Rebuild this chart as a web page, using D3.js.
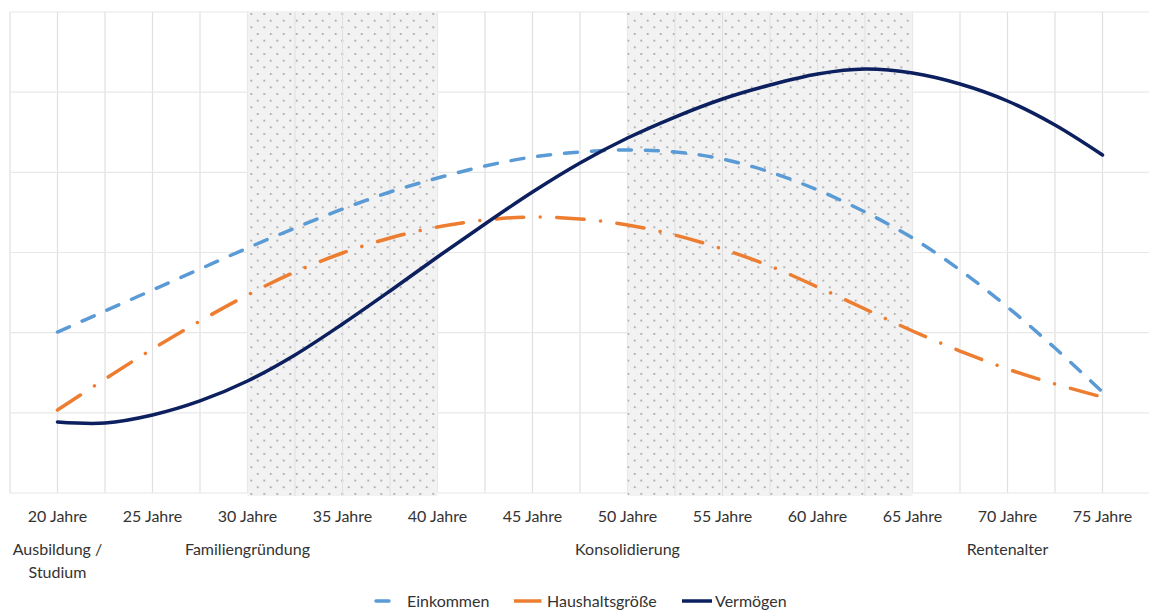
<!DOCTYPE html>
<html>
<head>
<meta charset="utf-8">
<script src="https://cdn.jsdelivr.net/npm/d3@7"></script>
<style>
  html, body { margin: 0; padding: 0; background: #fff; }
  svg { display: block; }
  text { font-family: Lato, "Open Sans", sans-serif; fill: #333; }
</style>
</head>
<body>
<svg id="chart" width="1149" height="613"></svg>
<script>
// ---------- data ----------
const ages = [20, 22.5, 25, 27.5, 30, 32.5, 35, 37.5, 40, 42.5, 45, 47.5, 50, 52.5, 55, 57.5, 60, 62.5, 65, 67.5, 70, 72.5, 75];
const einkommen = [2.008, 2.270, 2.532, 2.794, 3.056, 3.305, 3.542, 3.755, 3.929, 4.079, 4.191, 4.254, 4.279, 4.254, 4.166, 4.004, 3.780, 3.505, 3.181, 2.782, 2.320, 1.808, 1.260];
const haushaltsgroesse = [1.035, 1.422, 1.796, 2.145, 2.470, 2.757, 2.994, 3.181, 3.318, 3.405, 3.443, 3.418, 3.343, 3.218, 3.044, 2.831, 2.570, 2.295, 2.021, 1.771, 1.547, 1.360, 1.197];
const vermoegen = [0.886, 0.873, 0.973, 1.148, 1.397, 1.722, 2.108, 2.520, 2.944, 3.356, 3.755, 4.117, 4.428, 4.690, 4.915, 5.089, 5.227, 5.289, 5.239, 5.102, 4.890, 4.590, 4.216];
const tickAges = [20, 25, 30, 35, 40, 45, 50, 55, 60, 65, 70, 75];
const tickLabels = ["20 Jahre", "25 Jahre", "30 Jahre", "35 Jahre", "40 Jahre", "45 Jahre", "50 Jahre", "55 Jahre", "60 Jahre", "65 Jahre", "70 Jahre", "75 Jahre"];
const phaseAges = [20, 30, 50, 70];
const phaseLabels = [["Ausbildung /", "Studium"], ["Familiengründung"], ["Konsolidierung"], ["Rentenalter"]];
const bandStarts = [30, 50];
const bandEnds = [40, 65];
const seriesNames = ["Einkommen", "Haushaltsgröße", "Vermögen"];

// ---------- layout ----------
const svg = d3.select("#chart");
const x = d3.scaleLinear().domain([17.5, 77.5]).range([10, 1150]);
const y = d3.scaleLinear().domain([0, 6]).range([493, 12]);

// pattern for shaded bands
const defs = svg.append("defs");
const pat = defs.append("pattern")
  .attr("id", "dots").attr("patternUnits", "userSpaceOnUse")
  .attr("width", 13).attr("height", 13.33).attr("x", 251.3).attr("y", 14);
pat.append("rect").attr("width", 13).attr("height", 13.33).attr("fill", "#f2f2f2");
[[0, 0], [13, 0], [0, 13.33], [13, 13.33], [6.5, 6.67]].forEach(p => {
  pat.append("circle").attr("cx", p[0]).attr("cy", p[1]).attr("r", 0.85).attr("fill", "#8e8e8e");
});

// gridlines
const gridX = d3.range(17.5, 77.6, 2.5);
svg.append("g").selectAll("line").data(gridX).join("line")
  .attr("x1", d => x(d)).attr("x2", d => x(d))
  .attr("y1", y(6)).attr("y2", y(0))
  .attr("stroke", "#e0e0e0").attr("stroke-width", 1.2);
svg.append("g").selectAll("line").data(d3.range(0, 7)).join("line")
  .attr("x1", x(17.5)).attr("x2", x(77.5))
  .attr("y1", d => y(d)).attr("y2", d => y(d))
  .attr("stroke", "#e8e8e8").attr("stroke-width", 1.2);

// shaded bands
svg.append("g").selectAll("rect").data(bandStarts).join("rect")
  .attr("x", (d) => x(d))
  .attr("width", (d, i) => x(bandEnds[i]) - x(d))
  .attr("y", y(6)).attr("height", y(0) - y(6) + 3)
  .attr("fill", "url(#dots)");

// gridlines on top of bands (faint)
svg.append("g").selectAll("line").data(gridX.filter(a => bandStarts.some((s, i) => a > s && a < bandEnds[i]))).join("line")
  .attr("x1", d => x(d)).attr("x2", d => x(d))
  .attr("y1", y(6)).attr("y2", y(0) + 3)
  .attr("stroke", "#e0e0e0").attr("stroke-width", 1);

// lines
const line = d3.line().x((d, i) => x(ages[i])).y(d => y(d)).curve(d3.curveCatmullRom.alpha(0.5));
const series = [
  { vals: einkommen, color: "#5b9bd5", dash: "13,14" },
  { vals: haushaltsgroesse, color: "#ed7d31", dash: "27.5,16.5,0.01,16.5" },
  { vals: vermoegen, color: "#0c1f5e", dash: null }
];
series.forEach(s => {
  svg.append("path").attr("d", line(s.vals))
    .attr("fill", "none").attr("stroke", s.color).attr("stroke-width", 3.5)
    .attr("stroke-linecap", "round").attr("stroke-linejoin", "round")
    .attr("stroke-dasharray", s.dash);
});

// x axis labels
svg.append("g").selectAll("text").data(tickAges).join("text")
  .attr("x", d => x(d)).attr("y", 522)
  .attr("text-anchor", "middle").attr("font-size", 16)
  .text((d, i) => tickLabels[i]);

// phase labels
phaseAges.forEach((a, i) => {
  phaseLabels[i].forEach((t, j) => {
    svg.append("text").attr("x", x(a)).attr("y", 555 + j * 23)
      .attr("text-anchor", "middle").attr("font-size", 16).text(t);
  });
});

// legend
const legX = [376, 514, 682];
seriesNames.forEach((n, i) => {
  const g = svg.append("g");
  g.append("line").attr("x1", legX[i]).attr("x2", legX[i] + (i === 0 ? 24 : 30))
    .attr("y1", 601).attr("y2", 601)
    .attr("stroke", series[i].color).attr("stroke-width", 3.5)
    .attr("stroke-linecap", i === 0 ? "round" : "butt").attr("stroke-dasharray", series[i].dash);
  g.append("text").attr("x", legX[i] + (i === 0 ? 31 : 33)).attr("y", 607)
    .attr("font-size", 16).text(n);
});
</script>
</body>
</html>
